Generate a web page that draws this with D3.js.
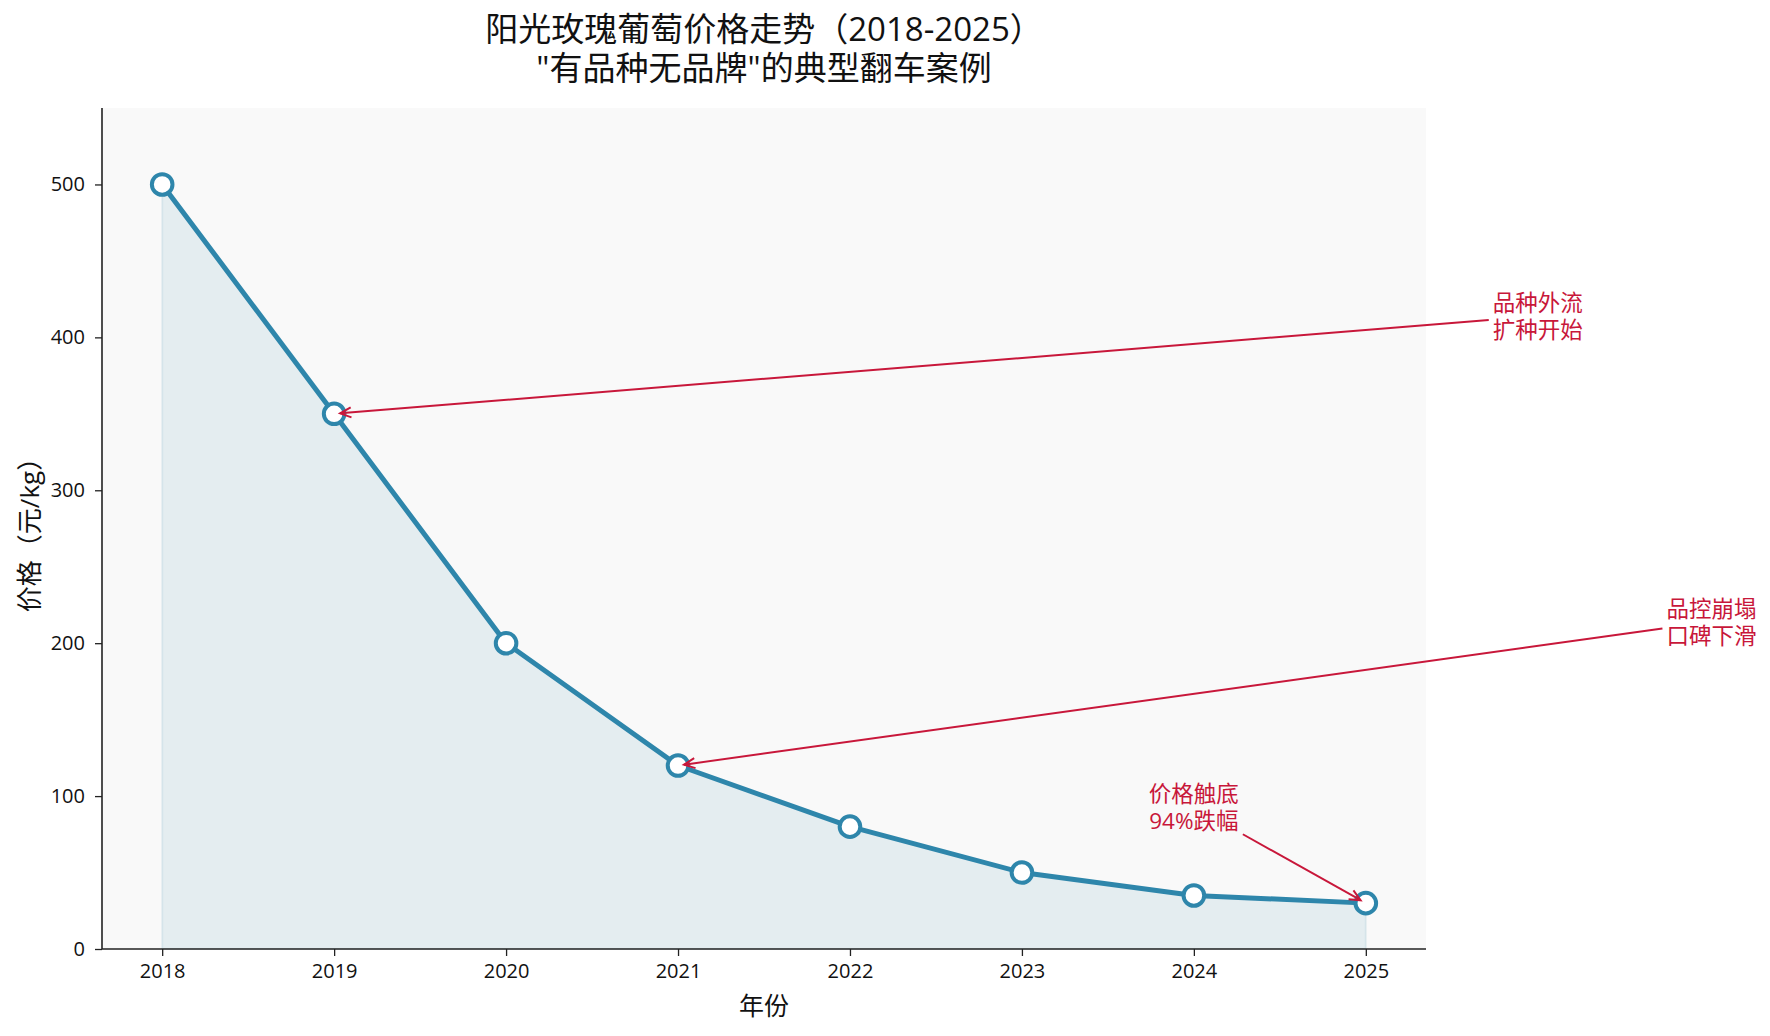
<!DOCTYPE html>
<html>
<head>
<meta charset="utf-8">
<script src="https://cdn.jsdelivr.net/npm/d3@7"></script>
<style>
  body { margin: 0; background: #fff; }
  text { font-family: "Open Sans", "Noto Sans CJK SC", sans-serif; }
</style>
</head>
<body>
<svg id="chart"></svg>
<script>
// data
const years = [2018, 2019, 2020, 2021, 2022, 2023, 2024, 2025];
const prices = [500, 350, 200, 120, 80, 50, 35, 30];
const yTicks = [0, 100, 200, 300, 400, 500];
const titleLines = ['阳光玫瑰葡萄价格走势（2018-2025）', '"有品种无品牌"的典型翻车案例'];
const xLabel = '年份';
const yLabel = '价格（元/kg）';

// annotations: text, target year, text position (data units)
const noteText = [['品种外流', '扩种开始'], ['品控崩塌', '口碑下滑'], ['价格触底', '94%跌幅']];
const noteTarget = [2019, 2021, 2025];
const noteX = [2026.0, 2027.01, 2024.0];
const noteY = [414, 214, 93];

const W = 1770, H = 1036;
const margin = { left: 102, right: 344, top: 108, bottom: 87 };
const blue = '#2E86AB', red = '#C8173A';
const font = '"Open Sans", "Noto Sans CJK SC", sans-serif';

const svg = d3.select('#chart')
  .attr('width', W)
  .attr('height', H);

const x = d3.scaleLinear().domain([2017.65, 2025.35]).range([margin.left, W - margin.right]);
const y = d3.scaleLinear().domain([0, 550]).range([H - margin.bottom, margin.top]);

// axes background
svg.append('rect')
  .attr('x', margin.left).attr('y', margin.top)
  .attr('width', W - margin.left - margin.right)
  .attr('height', H - margin.top - margin.bottom)
  .attr('fill', '#f9f9f9');

const pts = years.map((yr, i) => ({ yr, v: prices[i] }));

// filled area under the line
const area = d3.area().x(d => x(d.yr)).y0(y(0)).y1(d => y(d.v));
svg.append('path')
  .datum(pts)
  .attr('d', area)
  .attr('fill', blue)
  .attr('fill-opacity', 0.1)
  .attr('stroke', blue)
  .attr('stroke-opacity', 0.1)
  .attr('stroke-width', 2);

// axes
const xAxis = d3.axisBottom(x).tickValues(years).tickFormat(d3.format('d')).tickSize(7).tickPadding(8);
const yAxis = d3.axisLeft(y).tickValues(yTicks).tickSize(7).tickPadding(10);

const gx = svg.append('g')
  .attr('transform', `translate(0,${H - margin.bottom})`)
  .call(xAxis);
const gy = svg.append('g')
  .attr('transform', `translate(${margin.left},0)`)
  .call(yAxis);

[gx, gy].forEach(g => {
  g.select('.domain').attr('stroke', '#222').attr('stroke-width', 1.6);
  g.selectAll('.tick line').attr('stroke', '#222').attr('stroke-width', 1.3);
  g.selectAll('.tick text')
    .attr('fill', '#111')
    .style('font-size', '20px')
    .style('font-family', font);
});
// spines only, no outer ticks
gx.select('.domain').attr('d', `M${margin.left},0H${W - margin.right}`);
gy.select('.domain').attr('d', `M0,${H - margin.bottom}V${margin.top}`);

// line + markers
const line = d3.line().x(d => x(d.yr)).y(d => y(d.v));
svg.append('path')
  .datum(pts)
  .attr('d', line)
  .attr('fill', 'none')
  .attr('stroke', blue)
  .attr('stroke-width', 5)
  .attr('stroke-linejoin', 'round');

svg.selectAll('circle.pt')
  .data(pts)
  .enter()
  .append('circle')
  .attr('class', 'pt')
  .attr('cx', d => x(d.yr))
  .attr('cy', d => y(d.v))
  .attr('r', 10.3)
  .attr('fill', '#fff')
  .attr('stroke', blue)
  .attr('stroke-width', 4);

// axis labels
svg.append('text')
  .attr('x', (margin.left + W - margin.right) / 2)
  .attr('y', 1005)
  .attr('text-anchor', 'middle')
  .attr('dominant-baseline', 'central')
  .style('font-size', '25px')
  .attr('fill', '#111')
  .text(xLabel);

svg.append('text')
  .attr('transform', `translate(29,${(margin.top + H - margin.bottom) / 2}) rotate(-90)`)
  .attr('text-anchor', 'middle')
  .attr('dominant-baseline', 'central')
  .style('font-size', '26px')
  .attr('fill', '#111')
  .text(yLabel);

// title
svg.append('text')
  .attr('text-anchor', 'middle')
  .style('font-size', '33px')
  .attr('fill', '#111')
  .selectAll('tspan')
  .data(titleLines)
  .enter()
  .append('tspan')
  .attr('x', (margin.left + W - margin.right) / 2)
  .attr('y', (d, i) => 28 + i * 39)
  .attr('dominant-baseline', 'central')
  .text(d => d);

// annotations
const lineGap = 27;
noteText.forEach((lines, k) => {
  const cx = x(noteX[k]), cy = y(noteY[k]);
  const t = svg.append('text')
    .attr('text-anchor', 'middle')
    .style('font-size', '22.5px')
    .attr('fill', red);
  lines.forEach((s, i) => {
    t.append('tspan')
      .attr('x', cx)
      .attr('y', cy + (i - (lines.length - 1) / 2) * lineGap)
      .attr('dominant-baseline', 'central')
      .text(s);
  });
  const bb = t.node().getBBox();
  const hw = bb.width / 2 + 4, hh = bb.height / 2 + 1;
  const bx = bb.x + bb.width / 2, by = bb.y + bb.height / 2;

  const ti = years.indexOf(noteTarget[k]);
  const tx = x(years[ti]), ty = y(prices[ti]);
  const dx = tx - bx, dy = ty - by;
  const s = Math.min(hw / Math.abs(dx || 1e-9), hh / Math.abs(dy || 1e-9));
  const len = Math.hypot(dx, dy);
  const ux = dx / len, uy = dy / len;
  const sx = bx + dx * s, sy = by + dy * s;
  const ex = tx - ux * 6, ey = ty - uy * 6;

  svg.append('line')
    .attr('x1', sx).attr('y1', sy)
    .attr('x2', ex).attr('y2', ey)
    .attr('stroke', red)
    .attr('stroke-width', 2);

  // open arrow head
  const hl = 11, hwid = 5;
  const px = -uy, py = ux;
  svg.append('path')
    .attr('d', `M${ex - ux * hl + px * hwid},${ey - uy * hl + py * hwid}L${ex},${ey}L${ex - ux * hl - px * hwid},${ey - uy * hl - py * hwid}`)
    .attr('fill', 'none')
    .attr('stroke', red)
    .attr('stroke-width', 2);
});
</script>
</body>
</html>
